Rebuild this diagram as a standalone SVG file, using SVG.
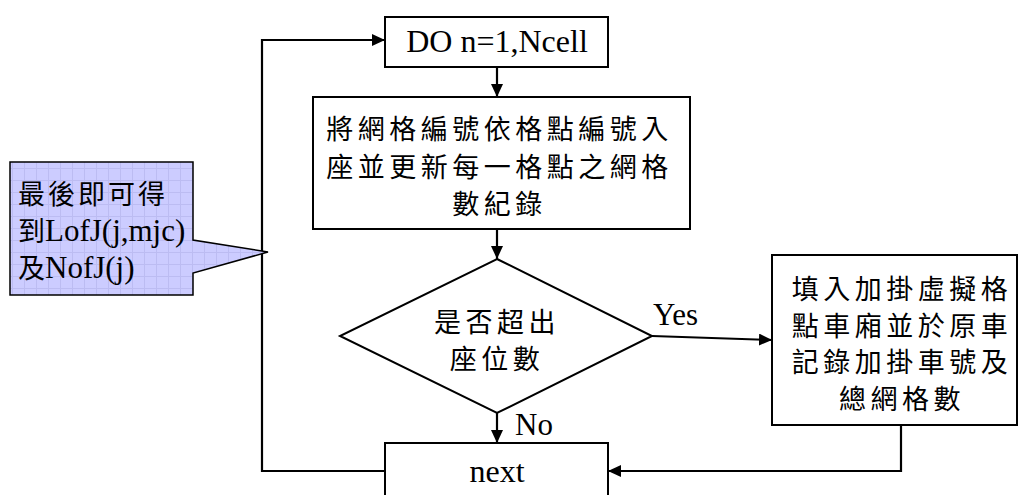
<svg xmlns="http://www.w3.org/2000/svg" width="1022" height="495" viewBox="0 0 1022 495">
<style>
.box{fill:#fff;stroke:#000;stroke-width:2}
.ln{fill:none;stroke:#000;stroke-width:2.2}
.lat{font-family:"Liberation Serif","Noto Sans CJK TC",serif;font-size:31px;fill:#000}
.cjk{font-family:"Noto Sans CJK TC","Liberation Serif",serif;font-size:27px;letter-spacing:4.5px;fill:#000}
.mid{text-anchor:middle}
</style>
<defs>
<marker id="ah" markerUnits="userSpaceOnUse" markerWidth="14" markerHeight="12" refX="13" refY="6" orient="auto">
<path d="M0,0 L13,6 L0,12 z" fill="#000"/>
</marker>
<pattern id="grid" width="12" height="12" patternUnits="userSpaceOnUse">
<rect width="12" height="12" fill="#ccccff"/>
<path d="M0,0.5 H12 M0.5,0 V12" stroke="#bcbcf2" stroke-width="1"/>
</pattern>
</defs>
<rect width="1022" height="495" fill="#fff"/>
<g id="connectors">
<path class="ln" d="M497,67 L497,97" marker-end="url(#ah)"/>
<path class="ln" d="M497,229 L497,259" marker-end="url(#ah)"/>
<path class="ln" d="M652,336 L772,340" marker-end="url(#ah)"/>
<path class="ln" d="M497,413 L497,443" marker-end="url(#ah)"/>
<path class="ln" d="M901,425 L901,471 L608,471" marker-end="url(#ah)"/>
<path class="ln" d="M385,471 L262,471 L262,40 L385,40" marker-end="url(#ah)"/>
<text class="lat" x="653" y="325">Yes</text>
<text class="lat" x="515" y="435">No</text>
</g>
<g id="callout">
<path d="M10,162 L193,162 L193,240 L268,252 L193,273 L193,295 L10,295 Z" fill="url(#grid)" stroke="#000" stroke-width="1.5"/>
<text class="cjk" x="18" y="204" style="letter-spacing:3px">最後即可得</text>
<text x="18" y="241"><tspan class="cjk" style="letter-spacing:0">到</tspan><tspan class="lat">LofJ(j,mjc)</tspan></text>
<text x="18" y="278"><tspan class="cjk" style="letter-spacing:0">及</tspan><tspan class="lat">NofJ(j)</tspan></text>
</g>
<g id="do">
<rect class="box" x="385" y="17" width="223" height="50"/>
<text class="lat mid" x="497" y="52" style="font-size:32px">DO n=1,Ncell</text>
</g>
<g id="process">
<rect class="box" x="313" y="97" width="377" height="132"/>
<text class="cjk mid" x="499.5" y="139">將網格編號依格點編號入</text>
<text class="cjk mid" x="499.5" y="177">座並更新每一格點之網格</text>
<text class="cjk mid" x="499.5" y="214">數紀錄</text>
</g>
<g id="decision">
<polygon class="box" points="497,259 652,336 497,413 340,336"/>
<text class="cjk mid" x="497" y="332">是否超出</text>
<text class="cjk mid" x="497" y="369">座位數</text>
</g>
<g id="append">
<rect class="box" x="772" y="255" width="245" height="170"/>
<text class="cjk mid" x="902" y="299">填入加掛虛擬格</text>
<text class="cjk mid" x="902" y="336">點車廂並於原車</text>
<text class="cjk mid" x="902" y="372">記錄加掛車號及</text>
<text class="cjk mid" x="902" y="409">總網格數</text>
</g>
<g id="next">
<rect class="box" x="385" y="443" width="223" height="60"/>
<text class="lat mid" x="497" y="482" style="font-size:32px">next</text>
</g>
</svg>
